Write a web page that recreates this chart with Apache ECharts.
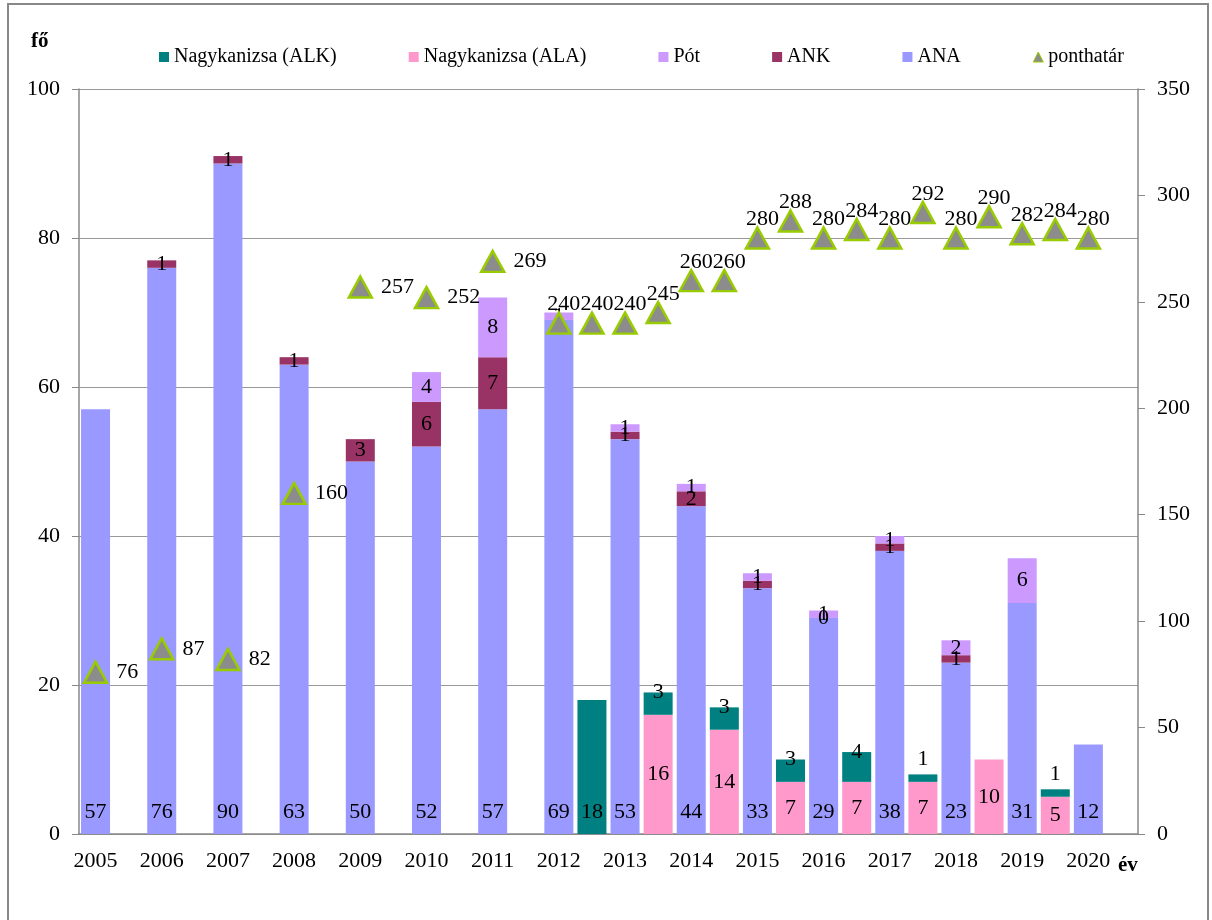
<!DOCTYPE html>
<html><head><meta charset="utf-8">
<script src="https://cdn.jsdelivr.net/npm/echarts@6/dist/echarts.min.js"></script>
<style>html,body{margin:0;padding:0;background:#fff}#c{width:1212px;height:920px}</style>
</head><body><div id="c"></div>
<script>
// categories: every year, with an unlabeled slot after it for the Nagykanizsa bars
const categories = ['2005','','2006','','2007','','2008','','2009','','2010','','2011','','2012','','2013','','2014','','2015','','2016','','2017','','2018','','2019','','2020',''];
const ana = [57,null,76,null,90,null,63,null,50,null,52,null,57,null,69,null,53,null,44,null,33,null,29,null,38,null,23,null,31,null,12,null];
const ank = [null,null,1,null,1,null,1,null,3,null,6,null,7,null,null,null,1,null,2,null,1,null,0,null,1,null,1,null,null,null,null,null];
const pot = [null,null,null,null,null,null,null,null,null,null,4,null,8,null,1,null,1,null,1,null,1,null,1,null,1,null,2,null,6,null,null,null];
const nkAla = [null,null,null,null,null,null,null,null,null,null,null,null,null,null,null,null,null,16,null,14,null,7,null,7,null,7,null,10,null,5,null,null];
const nkAlk = [null,null,null,null,null,null,null,null,null,null,null,null,null,null,null,18,null,3,null,3,null,3,null,4,null,1,null,null,null,1,null,null];
const ponthatar = [76,null,87,null,82,null,160,null,257,null,252,null,269,null,240,240,240,245,260,260,280,288,280,284,280,292,280,290,282,284,280,null];

const FONT = "'Liberation Serif','Times New Roman',serif";
const lbl = {color:'#000', fontSize:22, fontFamily:FONT};

const chart = echarts.init(document.getElementById('c'));

const alkData = nkAlk.map((v,i)=>{
  if (v==null) return null;
  let label;
  if (v >= 10) label = {position:'insideBottom', distance:11};
  else if (v === 1) label = {position:'top', distance:4};
  else label = {position:'top', distance:-11};
  return {value:v, label};
});
const pData = ponthatar.map((v,i)=>{
  if (v==null) return null;
  const label = i < 14 ? {position:'right', distance:8} : {position:'top', distance:-4, offset:[5,0]};
  return {value:v, label};
});

const barBase = {type:'bar', stack:'all', barWidth:29};

chart.setOption({
  animation:false,
  backgroundColor:'#fff',
  textStyle:{fontFamily:FONT},
  grid:{left:79, right:74, top:89, bottom:86, containLabel:false},
  legend:{
    left:154, top:42, itemWidth:10, itemHeight:10, itemGap:72,
    textStyle:{fontSize:20, color:'#000', fontFamily:FONT},
    data:[
      {name:'Nagykanizsa (ALK)', icon:'rect'},
      {name:'Nagykanizsa (ALA)', icon:'rect'},
      {name:'Pót', icon:'rect'},
      {name:'ANK', icon:'rect'},
      {name:'ANA', icon:'rect'},
      {name:'ponthatár', icon:'triangle', itemStyle:{color:'#8C8C8C', borderColor:'#99CC00', borderWidth:1}}
    ]
  },
  xAxis:{
    type:'category', data:categories,
    axisLine:{lineStyle:{color:'#888', width:1.5}},
    axisTick:{show:false},
    axisLabel:{interval:0, fontSize:22, color:'#000', margin:16, fontFamily:FONT}
  },
  yAxis:[
    {type:'value', min:0, max:100, interval:20,
     axisLine:{show:true, lineStyle:{color:'#888', width:1.5}},
     axisTick:{show:true, length:7, lineStyle:{color:'#888'}},
     splitLine:{lineStyle:{color:'#999', width:1.2}},
     axisLabel:{fontSize:22, color:'#000', margin:19, fontFamily:FONT}},
    {type:'value', min:0, max:350, interval:50,
     axisLine:{show:true, lineStyle:{color:'#888', width:1.5}},
     axisTick:{show:true, length:7, lineStyle:{color:'#888'}},
     splitLine:{show:false},
     axisLabel:{fontSize:22, color:'#000', margin:19, fontFamily:FONT}}
  ],
  series:[
    Object.assign({}, barBase, {name:'ANA', data:ana, itemStyle:{color:'#9999FF'},
      label:Object.assign({show:true, position:'insideBottom', distance:11}, lbl)}),
    Object.assign({}, barBase, {name:'ANK', data:ank, itemStyle:{color:'#993366'},
      label:Object.assign({show:true, position:'inside'}, lbl)}),
    Object.assign({}, barBase, {name:'Pót', data:pot, itemStyle:{color:'#CC99FF'},
      label:Object.assign({show:true, position:'inside'}, lbl)}),
    Object.assign({}, barBase, {name:'Nagykanizsa (ALA)', data:nkAla, itemStyle:{color:'#FF99CC'},
      label:Object.assign({show:true, position:'inside'}, lbl)}),
    Object.assign({}, barBase, {name:'Nagykanizsa (ALK)', data:alkData, itemStyle:{color:'#008080'},
      label:Object.assign({show:true}, lbl)}),
    {name:'ponthatár', type:'scatter', yAxisIndex:1, z:5, data:pData,
     symbol:'triangle', symbolSize:[23,21],
     itemStyle:{color:'#8C8C8C', borderColor:'#99CC00', borderWidth:2.5, opacity:1},
     label:Object.assign({show:true}, lbl)}
  ],
  graphic:[
    {type:'rect', shape:{x:8, y:4, width:1200, height:940}, style:{fill:'none', stroke:'#888', lineWidth:2}, silent:true},
    {type:'text', left:31, top:31, style:{text:'fő', font:"bold 21px 'Liberation Serif', serif", fill:'#000'}},
    {type:'text', left:1118, top:855, style:{text:'év', font:"bold 21px 'Liberation Serif', serif", fill:'#000'}}
  ]
});
</script>
</body></html>
